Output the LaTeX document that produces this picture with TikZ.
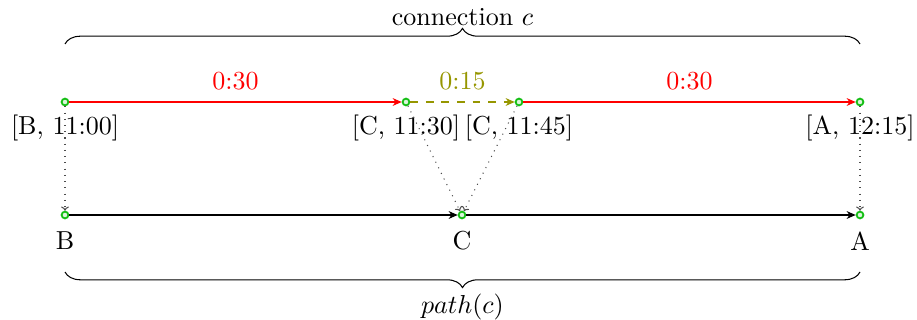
\documentclass[tikz,border=0pt]{standalone}
\usetikzlibrary{arrows.meta,decorations.pathreplacing}
\definecolor{ptgreen}{RGB}{20,190,20}
\definecolor{ptolive}{RGB}{150,150,0}
\tikzset{
  pt/.style={circle,draw=ptgreen,fill=ptgreen!15,line width=0.7pt,inner sep=0pt,minimum size=2.6pt},
  conn/.style={-{Stealth[length=3.5pt,width=3pt]},red},
  wait/.style={-{Stealth[length=3.5pt,width=3pt]},ptolive,dashed},
  pathedge/.style={-{Stealth[length=3.5pt,width=3pt]},black},
  proj/.style={-{To[length=1.6pt,width=3pt]},dotted,black!70},
  lbl/.style={font=\normalsize},
  brace/.style={decorate,decoration={brace,amplitude=6pt}}
}
\begin{document}
\begin{tikzpicture}[x=0.3846pt,y=-0.3846pt]
\useasboundingbox (0,0) rectangle (917,320);
\node[pt] (t1) at (65,102) {};
\node[pt] (t2) at (406,102) {};
\node[pt] (t3) at (519,102) {};
\node[pt] (t4) at (860,102) {};
\node[pt] (b1) at (65,215) {};
\node[pt] (b2) at (462,215) {};
\node[pt] (b3) at (860,215) {};
\node[lbl] (lt1) at (65,128) {[B, 11:00]};
\node[lbl] (lt2) at (406,128) {[C, 11:30]};
\node[lbl] (lt3) at (519,128) {[C, 11:45]};
\node[lbl] (lt4) at (860,128) {[A, 12:15]};
\node[lbl] (lb1) at (65,241) {B};
\node[lbl] (lb2) at (462,241) {C};
\node[lbl] (lb3) at (860,241) {A};
\draw[conn] (t1) -- node[above=1pt,red] {0:30} (t2);
\draw[wait] (t2) -- node[above=1pt,ptolive] {0:15} (t3);
\draw[conn] (t3) -- node[above=1pt,red] {0:30} (t4);
\draw[pathedge] (b1) -- (b2);
\draw[pathedge] (b2) -- (b3);
\draw[proj] (t1) -- (b1);
\draw[proj] (t2) -- (b2);
\draw[proj] (t3) -- (b2);
\draw[proj] (t4) -- (b3);
\coordinate (c1) at (65,44);
\coordinate (c2) at (860,44);
\draw[brace] (c1) -- node[above=3.5pt] (topl) {connection $c$} (c2);
\coordinate (d1) at (860,272);
\coordinate (d2) at (65,272);
\draw[brace] (d1) -- node[below=5pt] (botl) {$path(c)$} (d2);
\end{tikzpicture}
\end{document}
